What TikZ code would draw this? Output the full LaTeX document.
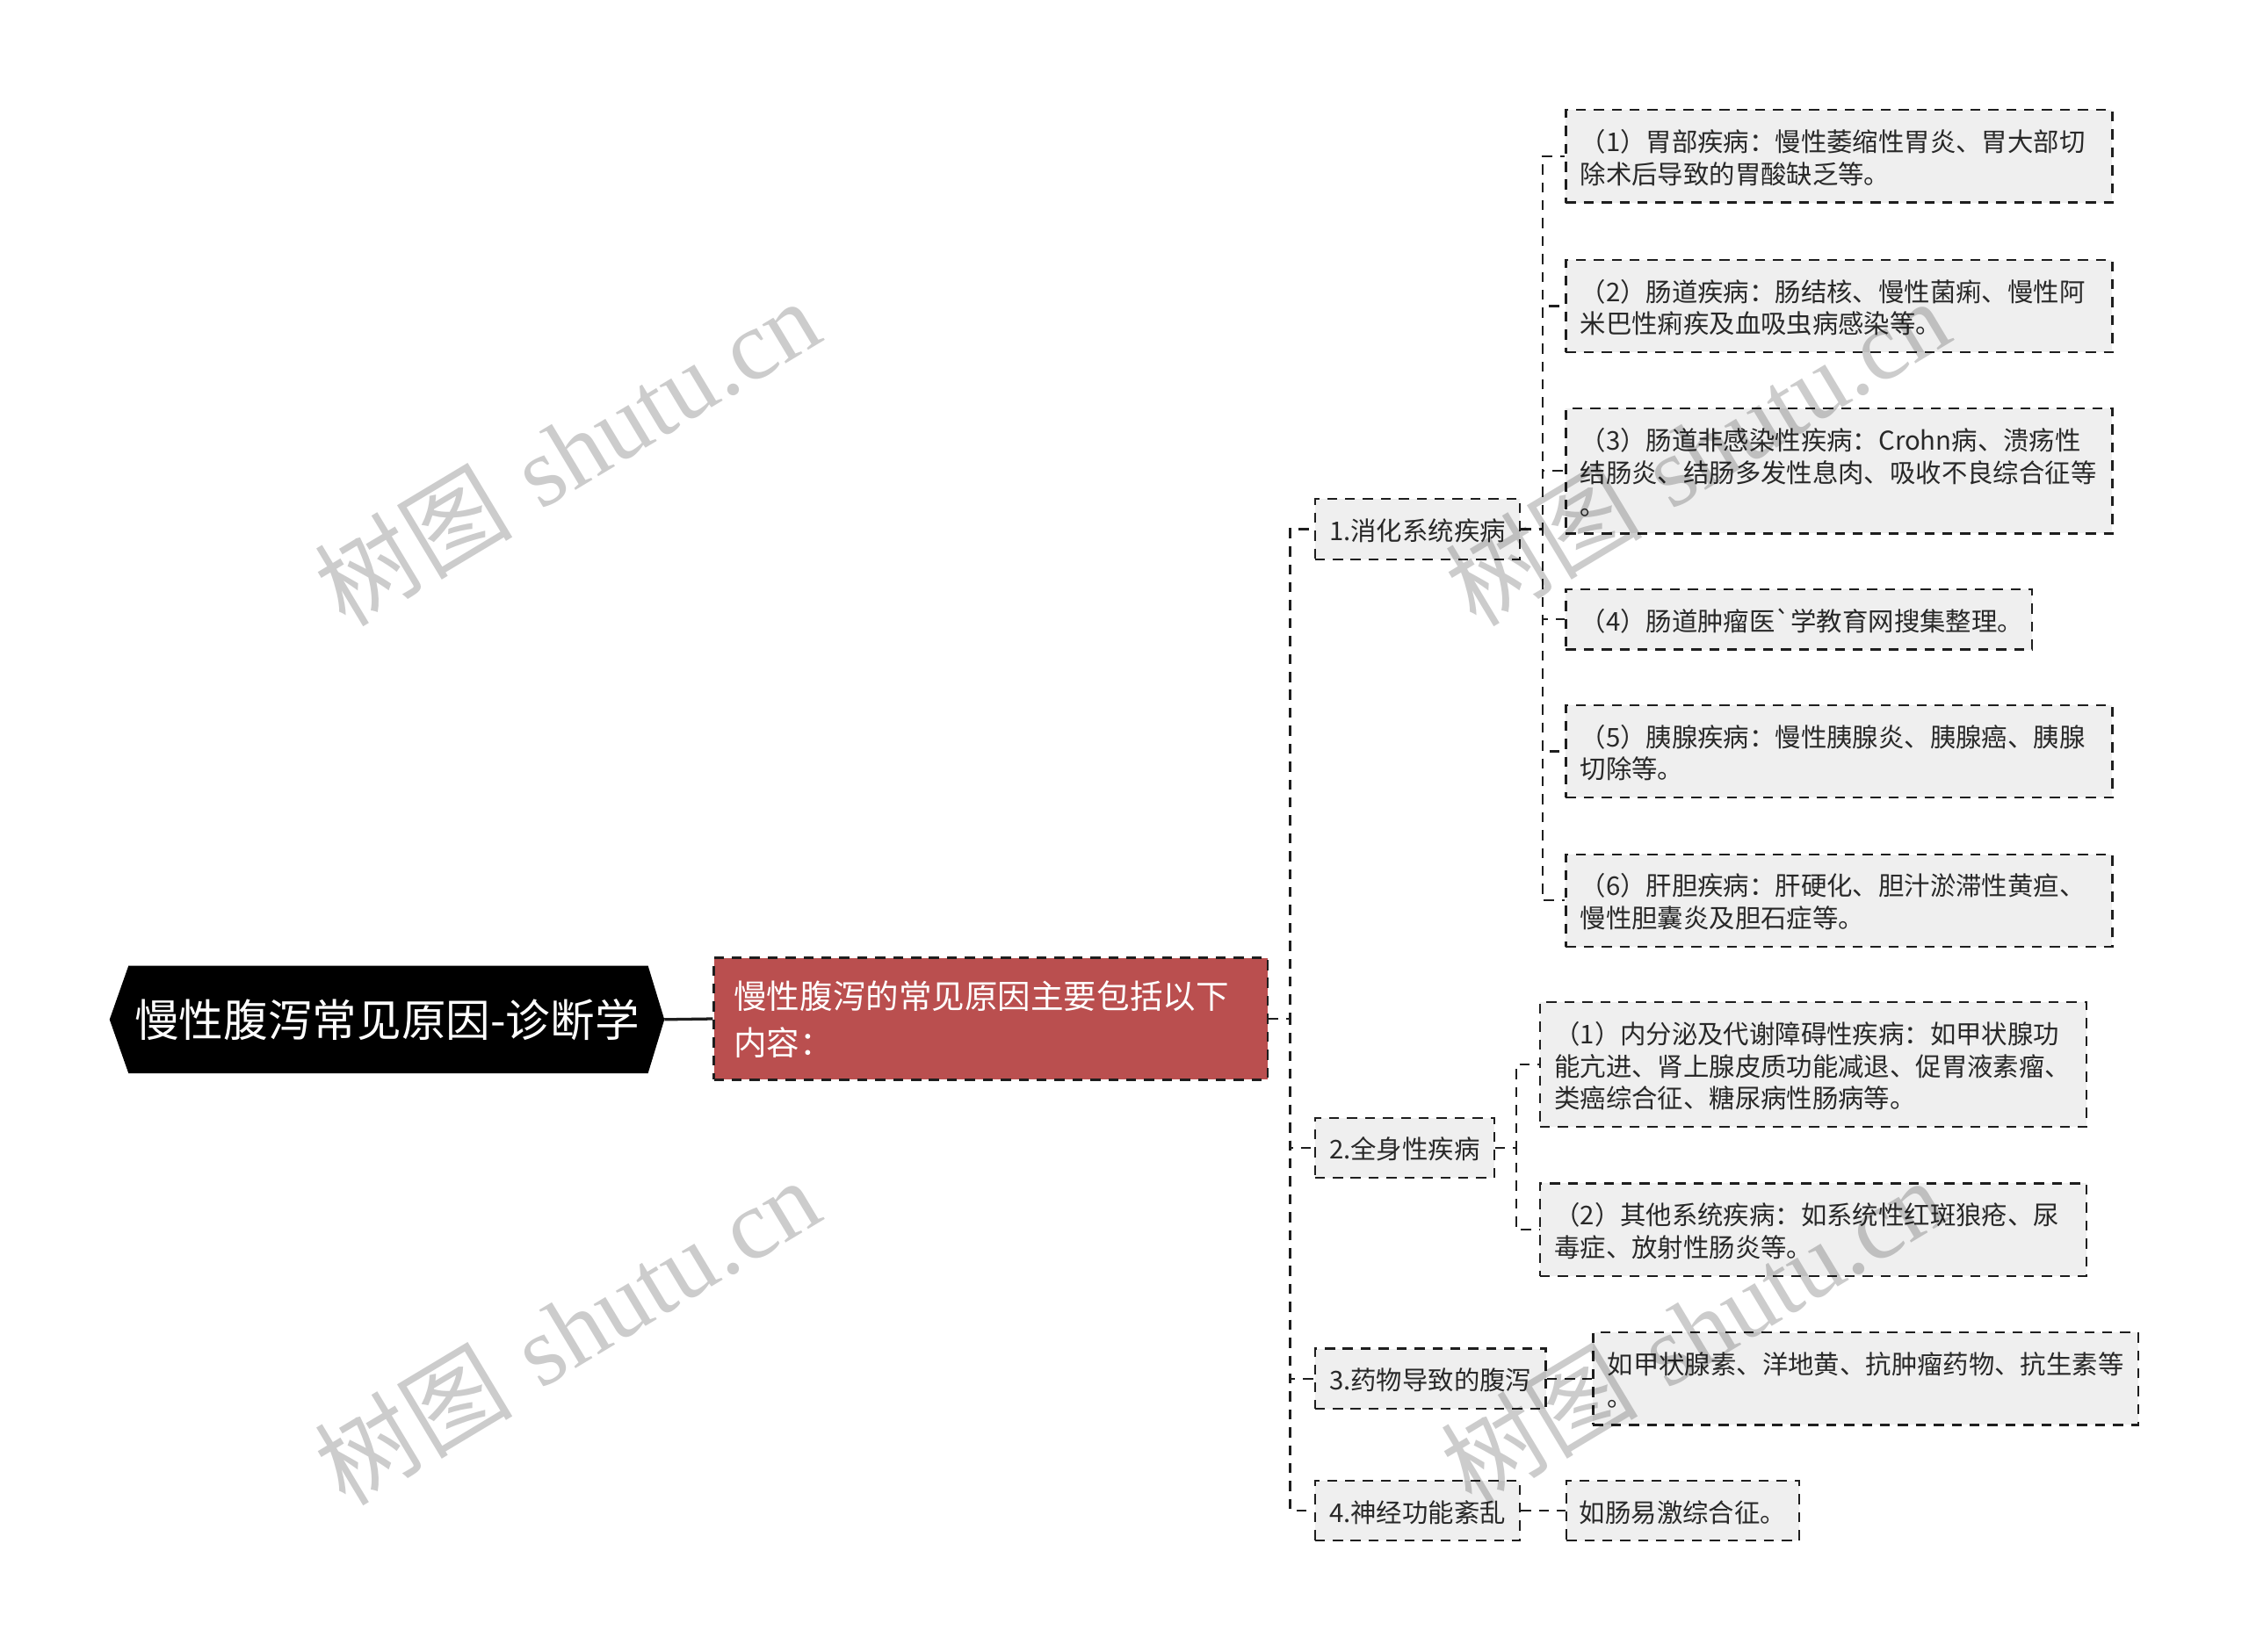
\documentclass[tikz,border=0pt]{standalone}
\usepackage{fontspec}
\newfontfamily\cjk{Noto Sans CJK SC}
\newfontfamily\wmlatin{Liberation Serif}
\usetikzlibrary{backgrounds,calc}
\definecolor{boxfill}{RGB}{239,239,239}
\definecolor{redfill}{RGB}{186,79,79}
\definecolor{linecol}{RGB}{30,30,30}
\definecolor{txtcol}{RGB}{40,40,40}
\newcommand\smallstrut{\vrule height 19.2pt depth 3.3pt width 0pt\relax}
\newcommand\bigstrut{\vrule height 25.2pt depth 6.8pt width 0pt\relax}
\begin{document}
\begin{tikzpicture}[x=1pt,y=-1pt,
  dashy/.style={line width=1.4pt,dash pattern=on 7pt off 5.5pt},
  conn/.style={draw=linecol,dashy},
  leaf/.style={draw=linecol,fill=boxfill,dashy,font=\cjk\fontsize{18}{22.5}\selectfont,
     text=txtcol,align=left,anchor=west,inner xsep=10pt,inner ysep=9.75pt,
     execute at begin node=\smallstrut,execute at end node=\smallstrut},
  lvone/.style={leaf},
  redbox/.style={draw=linecol,fill=redfill,dashy,font=\cjk\fontsize{23}{32}\selectfont,
     text=white,align=left,anchor=west,inner xsep=14pt,inner ysep=10.5pt,text width=358pt,
     execute at begin node=\bigstrut,execute at end node=\bigstrut},
  rootbox/.style={font=\cjk\fontsize{31}{36}\selectfont,text=white,minimum width=386.4pt,
     minimum height=74.6pt,inner sep=0pt},
  wmark/.style={text=black,text opacity=0.2,font=\fontsize{69}{72}\selectfont,rotate=31}
]
\useasboundingbox (0,0) rectangle (1568,1152);

% root
\node[rootbox] (root) at (269.8,711) {慢性腹泻常见原因-诊断学};
\begin{scope}[on background layer]
\fill[white] (0,0) rectangle (1568,1152);
\fill[black] (root.west) -- ($(root.north west)+(13.2,0)$) -- ($(root.north east)+(-11.4,0)$)
  -- (root.east) -- ($(root.south east)+(-11.4,0)$) -- ($(root.south west)+(13.2,0)$) -- cycle;
\end{scope}

% main red box
\node[redbox] (main) at (497,710.5) {慢性腹泻的常见原因主要包括以下\\内容：};

% level one
\node[lvone] (n1) at (916,369) {1.消化系统疾病};
\node[lvone] (n2) at (916,800.5) {2.全身性疾病};
\node[lvone] (n3) at (916,961.5) {3.药物导致的腹泻};
\node[lvone] (n4) at (916,1053.5) {4.神经功能紊乱};

% leaves of n1
\node[leaf,text width=361pt] (c11) at (1091,109) {（1）胃部疾病：慢性萎缩性胃炎、胃大部切\\除术后导致的胃酸缺乏等。};
\node[leaf,text width=361pt] (c12) at (1091,213.5) {（2）肠道疾病：肠结核、慢性菌痢、慢性阿\\米巴性痢疾及血吸虫病感染等。};
\node[leaf,text width=361pt] (c13) at (1091,328.5) {（3）肠道非感染性疾病：Crohn病、溃疡性\\结肠炎、结肠多发性息肉、吸收不良综合征等\\。};
\node[leaf,text width=305pt] (c14) at (1091,432) {（4）肠道肿瘤医\textasciigrave 学教育网搜集整理。};
\node[leaf,text width=361pt] (c15) at (1091,524) {（5）胰腺疾病：慢性胰腺炎、胰腺癌、胰腺\\切除等。};
\node[leaf,text width=361pt] (c16) at (1091,628) {（6）肝胆疾病：肝硬化、胆汁淤滞性黄疸、\\慢性胆囊炎及胆石症等。};

% leaves of n2
\node[leaf,text width=361pt] (c21) at (1073,742.5) {（1）内分泌及代谢障碍性疾病：如甲状腺功\\能亢进、肾上腺皮质功能减退、促胃液素瘤、\\类癌综合征、糖尿病性肠病等。};
\node[leaf,text width=361pt] (c22) at (1073,857.5) {（2）其他系统疾病：如系统性红斑狼疮、尿\\毒症、放射性肠炎等。};

% leaves of n3, n4
\node[leaf,text width=360pt] (c31) at (1110,961.5) {如甲状腺素、洋地黄、抗肿瘤药物、抗生素等\\。};
\node[leaf,text width=144pt,inner xsep=9pt] (c41) at (1091.5,1053.5) {如肠易激综合征。};

% bracket x positions
\coordinate (t0) at (899.5,0);
\coordinate (t1) at (1075.5,0);
\coordinate (t2) at (1057,0);

% connectors
\draw[linecol,line width=2pt] (root.east) -- (main.west);
\foreach \c in {n1,n2,n3,n4}{
  \draw[conn] (main.east) -- (main.east -| t0) |- (\c.west);
}
\foreach \c in {c11,c12,c13,c14,c15,c16}{
  \draw[conn] (n1.east) -- (n1.east -| t1) |- (\c.west);
}
\foreach \c in {c21,c22}{
  \draw[conn] (n2.east) -- (n2.east -| t2) |- (\c.west);
}
\draw[conn] (n3.east) -- (c31.west);
\draw[conn] (n4.east) -- (c41.west);

% watermarks
\node[wmark] (wm1) at (395,315) {{\cjk 树图} {\wmlatin shutu.cn}};
\node[wmark] (wm2) at (395,928) {{\cjk 树图} {\wmlatin shutu.cn}};
\node[wmark] (wm3) at (1183,315) {{\cjk 树图} {\wmlatin shutu.cn}};
\node[wmark] (wm4) at (1180,928) {{\cjk 树图} {\wmlatin shutu.cn}};
\end{tikzpicture}
\end{document}
